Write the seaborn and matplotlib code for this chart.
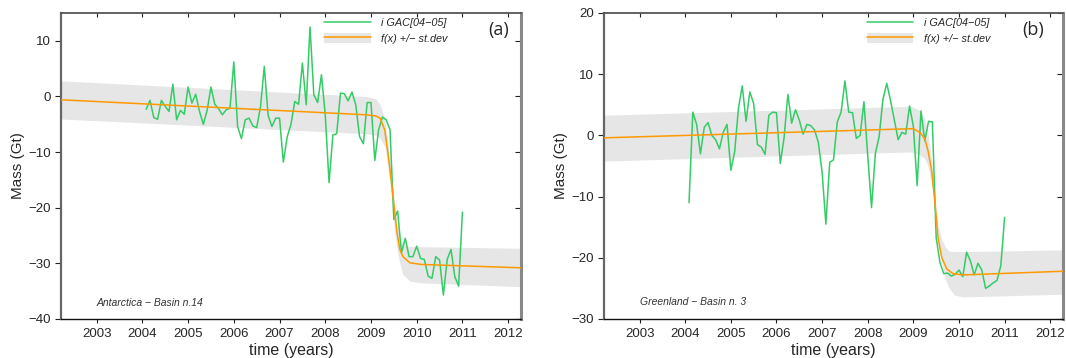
import numpy as np
import pandas as pd
import matplotlib
matplotlib.use("Agg")
import matplotlib.pyplot as plt
import seaborn as sns
from matplotlib.lines import Line2D
from matplotlib.patches import Patch

# monthly samples, Feb 2004 .. Jan 2011
months = 2004 + np.arange(1, 85) / 12

# (a) Antarctica basin 14
mass_a = [-2.3, -0.7, -3.8, -4.1, -0.7, -1.8, -2.7, 2.2, -4.2, -2.5, -3.2, 1.7,
          -1.2, 0.4, -2.7, -5.0, -2.5, 1.7, -1.4, -2.2, -3.3, -2.4, -2.1, 6.2,
          -5.4, -7.6, -4.2, -3.9, -5.3, -5.6, -1.9, 5.4, -3.4, -5.4, -3.9, -3.9,
          -11.8, -7.3, -5.0, -0.9, -1.4, 6.0, -1.5, 12.5, 0.3, -1.1, 3.9, -3.3,
          -15.5, -6.9, -6.7, 0.6, 0.5, -0.8, 0.8, -1.5, -7.2, -8.5, -1.1, -1.1,
          -11.5, -6.0, -3.7, -4.2, -6.0, -22.1, -20.6, -28.1, -25.5, -28.8, -28.8, -26.9,
          -29.1, -29.3, -32.3, -32.7, -28.8, -29.4, -35.7, -29.3, -27.5, -32.4, -34.1, -20.8]

fit_t_a = [2002.22, 2008.9, 2009.1, 2009.2, 2009.3, 2009.37, 2009.45, 2009.52,
           2009.57, 2009.63, 2009.70, 2009.85, 2010.1, 2012.28]
fit_a = [-0.6, -3.3, -3.5, -3.9, -6.0, -10.1, -15.5, -20.9,
         -24.5, -27.5, -28.8, -29.9, -30.2, -30.8]
band_hi_a = [2.8, 0.0, -0.4, -1.5, -4.0, -8.5, -14.0, -19.5,
             -23.0, -25.5, -26.5, -27.0, -27.0, -27.3]
band_lo_a = [-4.05, -6.7, -7.0, -7.5, -9.0, -12.5, -18.5, -24.5,
             -27.5, -30.0, -32.0, -33.2, -33.5, -34.2]

# (b) Greenland basin 3
mass_b = [-11.0, 3.8, 1.8, -3.0, 1.3, 2.1, 0.0, -0.7, -2.2, 0.5, 1.8, -5.7,
          -2.7, 4.4, 8.1, 2.3, 7.1, 5.2, -1.5, -1.9, -3.1, 3.3, 3.8, 3.7,
          -4.6, -0.4, 6.7, 2.0, 4.2, 2.5, 0.2, 1.8, 1.6, 0.9, -1.1, -6.0,
          -14.5, -4.4, -4.0, 2.2, 3.8, 8.9, 3.8, 3.7, -0.5, 0.0, 5.5, -3.3,
          -11.8, -3.0, -0.2, 5.9, 8.5, 5.7, 2.5, -0.7, 0.5, 0.2, 4.8, 1.5,
          -8.2, 4.0, -0.9, 2.3, 2.2, -16.7, -20.8, -22.6, -22.5, -23.0, -22.7, -22.0,
          -23.1, -19.1, -20.5, -22.8, -20.9, -22.0, -25.0, -24.6, -24.1, -23.7, -21.3, -13.4]

fit_t_b = [2002.22, 2009.0, 2009.14, 2009.25, 2009.32, 2009.40, 2009.47, 2009.54,
           2009.62, 2009.73, 2009.87, 2010.09, 2012.28]
fit_b = [-0.4, 1.1, 0.5, -0.5, -2.5, -5.7, -10.7, -16.7,
         -19.9, -21.8, -22.6, -22.8, -22.2]
band_t_b = [2002.22, 2008.95, 2009.14, 2009.25, 2009.32, 2009.40, 2009.47, 2009.54,
            2009.62, 2009.70, 2009.78, 2009.90, 2010.09, 2012.28]
band_hi_b = [3.3, 4.75, 4.1, 2.7, 0.3, -4.1, -9.6, -14.5,
             -17.0, -18.2, -18.9, -19.0, -19.0, -18.7]
band_lo_b = [-4.2, -2.7, -3.2, -3.8, -5.0, -8.0, -12.5, -16.1,
             -20.5, -23.5, -24.9, -26.1, -26.4, -25.95]

years = list(range(2003, 2013))

GREEN = "#33cc66"
ORANGE = "#ff9900"
BAND = "#e6e6e6"

sns.set_style("ticks")
plt.rcParams["font.family"] = ["Liberation Sans", "DejaVu Sans"]

fig = plt.figure(figsize=(10.66, 3.58), dpi=100)
ax_a = fig.add_axes([0.0572, 0.109, 0.4315, 0.8547])
ax_b = fig.add_axes([0.5666, 0.109, 0.4306, 0.8547])

panels = [
    (ax_a, mass_a, fit_t_a, fit_a, fit_t_a, band_hi_a, band_lo_a, (-40, 15), [10, 0, -10, -20, -30, -40],
     "(a)", 0.952, "Antarctica \u2212 Basin n.14", -37.1),
    (ax_b, mass_b, fit_t_b, fit_b, band_t_b, band_hi_b, band_lo_b, (-30, 20), [20, 10, 0, -10, -20, -30],
     "(b)", 0.935, "Greenland \u2212 Basin n. 3", -27.2),
]

for ax, mass, ft, fv, bt, bhi, blo, ylim, yt, tag, tagx, note, notey in panels:
    df = pd.DataFrame({"t": months, "mass": mass})
    fit = pd.DataFrame({"t": ft, "f": fv})
    ax.fill_between(bt, blo, bhi, color=BAND, lw=0, zorder=1)
    sns.lineplot(data=df, x="t", y="mass", ax=ax, color=GREEN, lw=1.1, zorder=3)
    sns.lineplot(data=fit, x="t", y="f", ax=ax, color=ORANGE, lw=1.1, zorder=4)

    ax.set_xlim(2002.22, 2012.28)
    ax.set_ylim(*ylim)
    ax.set_xticks(years)
    ax.set_yticks(yt)
    ax.tick_params(axis="both", labelsize=9.5, color="#222222")
    ax.tick_params(axis="y", direction="out", length=4, right=True)
    ax.tick_params(axis="x", direction="out", length=3, top=True)
    ax.tick_params(which="both", top=True, right=True)
    # top / right ticks point into the plot
    for t in ax.xaxis.get_major_ticks():
        t.tick2line.set_marker(3)
        t.tick2line.set_markersize(3)
    for t in ax.yaxis.get_major_ticks():
        t.tick2line.set_marker(0)
        t.tick2line.set_markersize(4)
    ax.set_xlabel("time (years)", fontsize=11.5, labelpad=2)
    ax.set_ylabel("Mass (Gt)", fontsize=11, labelpad=2)

    ax.spines["left"].set_color("#666666")
    ax.spines["left"].set_linewidth(1.6)
    ax.spines["top"].set_color("#555555")
    ax.spines["top"].set_linewidth(1.3)
    ax.spines["right"].set_color("#888888")
    ax.spines["right"].set_linewidth(2.2)
    ax.spines["bottom"].set_color("#111111")
    ax.spines["bottom"].set_linewidth(1.0)

    handles = [Line2D([], [], color=GREEN, lw=1.1),
               (Patch(facecolor=BAND, edgecolor="none"), Line2D([], [], color=ORANGE, lw=1.1))]
    ax.legend(handles, ["i GAC[04\u221205]", "f(x) +/\u2212 st.dev"], loc="upper left",
              bbox_to_anchor=(0.572, 0.985), frameon=False, borderpad=0, borderaxespad=0,
              handlelength=4.3, handleheight=1.1, handletextpad=1.0, labelspacing=0.42,
              prop={"size": 7.8, "style": "italic"})

    ax.text(tagx, 0.944, tag, transform=ax.transAxes, ha="center", va="center",
            fontsize=13, family=["Open Sans", "DejaVu Sans"])
    ax.text(2003, notey, note, fontsize=7.5, style="italic", color="#333333", va="center")

fig.savefig("out.png", dpi=100)
